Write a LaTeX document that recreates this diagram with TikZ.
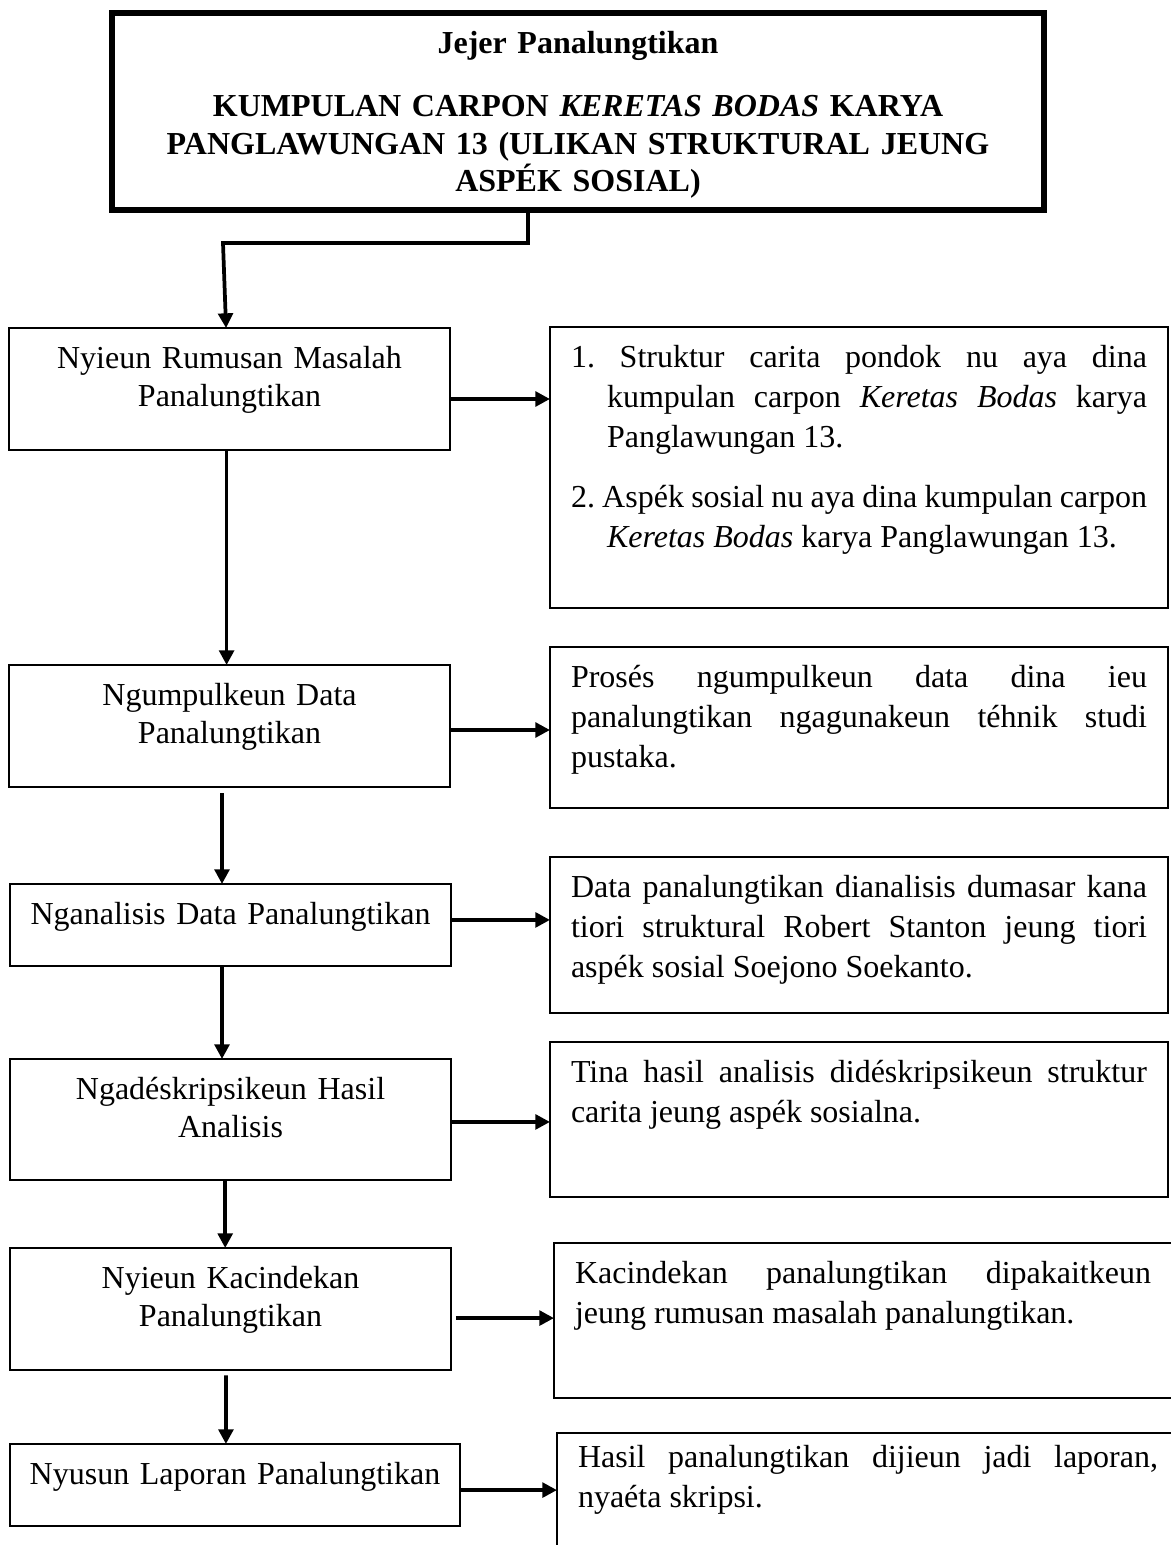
\documentclass[tikz,border=0pt]{standalone}
\usepackage{fontspec}
\setmainfont{Liberation Serif}
\usepackage{tikz}
\usetikzlibrary{arrows.meta, positioning, calc}
\hyphenpenalty=10000
\exhyphenpenalty=10000

\begin{document}
\begin{tikzpicture}[
    x=0.375pt, y=-0.375pt,
    titlebox/.style={draw, line width=2.25pt, outer sep=0pt, anchor=north west, align=center, text width=340pt, inner xsep=4.75pt, inner ysep=4pt, text height=11pt, text depth=54.9pt, font=\fontsize{12pt}{14pt}\selectfont\bfseries},
    stage/.style={draw, line width=0.8pt, outer sep=0pt, anchor=north west, align=center, text width=157.4pt, inner xsep=4pt, inner ysep=4pt, text height=11pt, text depth=#1, font=\fontsize{12pt}{14.4pt}\selectfont},
    stage/.default=26.75pt,
    note/.style={draw, line width=0.8pt, outer sep=0pt, anchor=north west, align=justify, text width=216pt, inner xsep=7.875pt, inner ysep=4pt, text height=11pt, text depth=#1, font=\fontsize{12pt}{15pt}\selectfont},
    note/.default=40pt,
    opennote/.style={note=#1, text width=260pt},
    arrow/.style={-{Triangle[length=5.5pt, width=5.5pt]}, line width=1.4pt}
]
    \useasboundingbox (0,0) rectangle (1171,1545);
    \clip (0,0) rectangle (1171,1545);

    \node[titlebox] (topic) at (112,13) {Jejer Panalungtikan\\[10pt] KUMPULAN CARPON \textit{KERETAS BODAS} KARYA\\ PANGLAWUNGAN 13 (ULIKAN STRUKTURAL JEUNG\\ ASPÉK SOSIAL)};

    \node[stage] (rumusan) at (9,328) {Nyieun Rumusan Masalah\\ Panalungtikan};
    \node[stage] (ngumpul) at (9,665) {Ngumpulkeun Data\\ Panalungtikan};
    \node[stage=11.75pt] (analisis) at (10,884) {Nganalisis Data Panalungtikan};
    \node[stage=26.4pt] (deskripsi) at (10,1059) {Ngadéskripsikeun Hasil\\ Analisis};
    \node[stage] (kacindekan) at (10,1248) {Nyieun Kacindekan\\ Panalungtikan};
    \node[stage=11.75pt, text width=160.75pt] (laporan) at (10,1444) {Nyusun Laporan Panalungtikan};

    \node[note=86.4pt] (rumusanisi) at (550,327) {1.\hangindent=13.5pt\hangafter=1\relax\ Struktur carita pondok nu aya dina kumpulan carpon \textit{Keretas Bodas} karya Panglawungan 13.\par\vspace{7.5pt}2.\hangindent=13.5pt\hangafter=1\relax\ Aspék sosial nu aya dina kumpulan carpon \textit{Keretas Bodas} karya Panglawungan 13.\par};
    \node[note=41.4pt] (ngumpulisi) at (550,647) {Prosés ngumpulkeun data dina ieu panalungtikan ngagunakeun téhnik studi pustaka.};
    \node[note=39.5pt] (analisisisi) at (550,857) {Data panalungtikan dianalisis dumasar kana tiori struktural Robert Stanton jeung tiori aspék sosial Soejono Soekanto.};
    \node[note=39.1pt] (deskripsiisi) at (550,1042) {Tina hasil analisis didéskripsikeun struktur carita jeung aspék sosialna.};
    \node[opennote=39.1pt] (kacindekanisi) at (554,1243) {\parbox[t]{216pt}{Kacindekan panalungtikan dipakaitkeun jeung rumusan masalah panalungtikan.}};
    \node[opennote=60pt, text height=9pt] (laporanisi) at (557,1433) {\parbox[t]{217.5pt}{Hasil panalungtikan dijieun jadi laporan, nyaéta skripsi.}};

    \coordinate (kink) at (223,243);
    \draw[arrow] ([xshift=-18.75pt]topic.south) |- (kink) -- ([xshift=-1.3pt]rumusan.north);

    \draw[arrow] ([xshift=-1.1pt]rumusan.south) -- ([xshift=-1.1pt]ngumpul.north);
    \draw[arrow] ([xshift=-2.8pt,yshift=-2.25pt]ngumpul.south) -- ([xshift=-3.2pt]analisis.north);
    \draw[arrow] ([xshift=-3.2pt]analisis.south) -- ([xshift=-3.2pt]deskripsi.north);
    \draw[arrow] ([xshift=-2pt]deskripsi.south) -- ([xshift=-2pt]kacindekan.north);
    \draw[arrow] ([xshift=-1.7pt,yshift=-2pt]kacindekan.south) -- ([xshift=-3.4pt]laporan.north);

    \draw[arrow] ([yshift=-3.75pt]rumusan.east) -- ([yshift=-3.75pt]rumusan.east -| rumusanisi.west);
    \draw[arrow] ([yshift=-1.5pt]ngumpul.east) -- ([yshift=-1.5pt]ngumpul.east -| ngumpulisi.west);
    \draw[arrow] ([yshift=1.9pt]analisis.east) -- ([yshift=1.9pt]analisis.east -| analisisisi.west);
    \draw[arrow] ([yshift=-0.9pt]deskripsi.east) -- ([yshift=-0.9pt]deskripsi.east -| deskripsiisi.west);
    \draw[arrow, shorten <=1.8pt] ([yshift=-3.4pt]kacindekan.east) -- ([yshift=-3.4pt]kacindekan.east -| kacindekanisi.west);
    \draw[arrow] ([yshift=-1.9pt]laporan.east) -- ([yshift=-1.9pt]laporan.east -| laporanisi.west);
\end{tikzpicture}
\end{document}
